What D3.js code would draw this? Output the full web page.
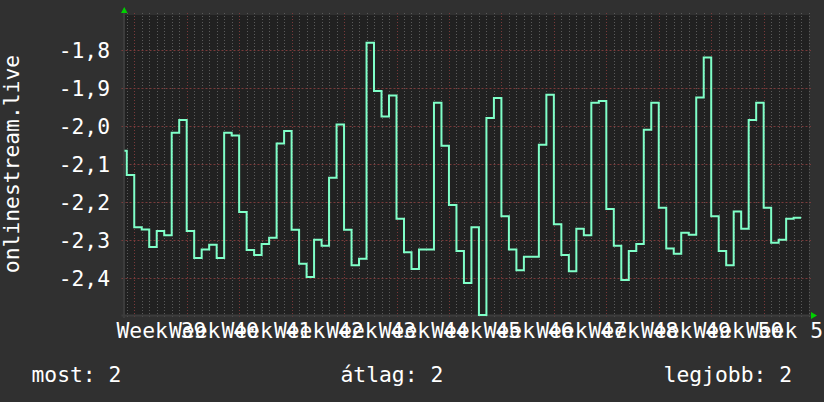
<!DOCTYPE html>
<html><head><meta charset="utf-8">
<script src="https://cdn.jsdelivr.net/npm/d3@7"></script>
<style>
html,body{margin:0;padding:0;background:#303030;}
svg{display:block;}
text{font-family:"DejaVu Sans Mono",monospace;fill:#ffffff;}
</style></head>
<body>
<script>
// ---- data ----
const startDay = -2;   // day offset (from start of Week 39) of first value
const dailyValues = [
 -2.065,-2.129,
 -2.266,-2.272,-2.318,-2.276,-2.287,-2.018,-1.984,
 -2.276,-2.347,-2.325,-2.312,-2.347,-2.018,-2.025,
 -2.226,-2.326,-2.339,-2.310,-2.294,-2.046,-2.013,
 -2.273,-2.362,-2.397,-2.299,-2.315,-2.136,-1.996,
 -2.273,-2.366,-2.349,-1.781,-1.908,-1.975,-1.920,
 -2.244,-2.332,-2.376,-2.325,-2.325,-1.939,-2.052,
 -2.208,-2.329,-2.413,-2.266,-2.497,-1.979,-1.926,
 -2.237,-2.325,-2.379,-2.344,-2.344,-2.049,-1.918,
 -2.258,-2.339,-2.382,-2.270,-2.287,-1.939,-1.934,
 -2.218,-2.315,-2.405,-2.329,-2.310,-2.010,-1.939,
 -2.215,-2.322,-2.336,-2.281,-2.286,-1.925,-1.820,
 -2.237,-2.329,-2.366,-2.225,-2.270,-1.984,-1.939,
 -2.215,-2.307,-2.299,-2.244,-2.241
];
const weekLabels = ["Week 39","Week 40","Week 41","Week 42","Week 43","Week 44","Week 45",
  "Week 46","Week 47","Week 48","Week 49","Week 50","Week 51"];
const yTicks = [-1.8,-1.9,-2.0,-2.1,-2.2,-2.3,-2.4];
const yTitle = "onlinestream.live";
const legendLabels = ["most","átlag","legjobb"];
const legendValues = [2,2,2];

// ---- layout ----
const W = 824, H = 402;
const L = 124.5, R = 809, T = 15, B = 315;
const svg = d3.select("body").append("svg").attr("width",W).attr("height",H);
svg.append("rect").attr("width",W).attr("height",H).attr("fill","#303030");

const x = d3.scaleLinear().domain([-1.3, 90.05]).range([L, R]);
const y = d3.scaleLinear().domain([-2.497, -1.708]).range([B, T]);

svg.append("rect").attr("x",L).attr("y",T).attr("width",R-L).attr("height",B-T).attr("fill","#212121");

const loc = d3.formatLocale({decimal:",",thousands:" ",grouping:[3],currency:["",""],minus:"-"});
const fmt = loc.format(".1f");

// vertical grid (days) and weeks
const days = d3.range(-1, 91).filter(d => x(d) >= L && x(d) <= R);
const g = svg.append("g");
g.selectAll("line.minor").data(days.filter(d => d % 7 !== 0)).join("line")
  .attr("x1",d=>Math.round(x(d))+0.5).attr("x2",d=>Math.round(x(d))+0.5)
  .attr("y1",T-2).attr("y2",B+2)
  .attr("stroke","#5a5a5a").attr("stroke-dasharray","1,2");
g.selectAll("line.major").data(days.filter(d => d % 7 === 0)).join("line")
  .attr("x1",d=>Math.round(x(d))+0.5).attr("x2",d=>Math.round(x(d))+0.5)
  .attr("y1",T-2).attr("y2",B+2)
  .attr("stroke","#7a3a3a").attr("stroke-dasharray","1,2");
// horizontal grid
g.selectAll("line.h").data(yTicks).join("line")
  .attr("x1",L-3).attr("x2",R+2)
  .attr("y1",d=>Math.round(y(d))+0.5).attr("y2",d=>Math.round(y(d))+0.5)
  .attr("stroke","#7a3a3a").attr("stroke-dasharray","2,2");

// axes lines
svg.append("line").attr("x1",L-0.5).attr("x2",L-0.5).attr("y1",T-3).attr("y2",B+3).attr("stroke","#3c3c3c").attr("stroke-width",2);
svg.append("line").attr("x1",L-3).attr("x2",R+4).attr("y1",B+0.5).attr("y2",B+0.5).attr("stroke","#3c3c3c").attr("stroke-width",2);
// arrows
svg.append("path").attr("d",`M${L-3.5},${T-2} L${L+3},${T-2} L${L-0.25},${T-8} Z`).attr("fill","#00d000");
svg.append("path").attr("d",`M${R+2},${B-3} L${R+2},${B+4} L${R+8},${B+0.5} Z`).attr("fill","#00d000");

// y tick labels
svg.append("g").selectAll("text").data(yTicks).join("text")
  .attr("x",110).attr("y",d=>y(d)+8.2)
  .attr("text-anchor","end").attr("font-size","21.33px").text(d=>fmt(d));

// week labels
svg.append("g").selectAll("text").data(weekLabels).join("text")
  .attr("x",(d,i)=>x(7*i+3.5)+1).attr("y",338.3)
  .attr("text-anchor","middle").attr("font-size","21.33px").text(d=>d);

// y title
svg.append("text").attr("transform","translate(18.5,164) rotate(-90)")
  .attr("text-anchor","middle").attr("font-size","21.33px").text(yTitle);

// data line
const pts = dailyValues.map((v,i)=>[startDay+i, v]);
pts.push([startDay+dailyValues.length, dailyValues[dailyValues.length-1]]);
svg.append("clipPath").attr("id","clip").append("rect").attr("x",L).attr("y",T-2).attr("width",R-L).attr("height",B-T+3);
const line = d3.line().x(d=>x(d[0])).y(d=>y(d[1])).curve(d3.curveStepAfter);
svg.append("path").datum(pts).attr("clip-path","url(#clip)")
  .attr("d",line).attr("fill","none").attr("stroke","#7fffc8").attr("stroke-width",2);

// legend
const legX = [31.5, 340.5, 792];
const legA = ["start","start","end"];
svg.append("g").selectAll("text").data(legendLabels).join("text")
  .attr("x",(d,i)=>legX[i]).attr("y",381.7).attr("text-anchor",(d,i)=>legA[i])
  .attr("font-size","21.33px").text((d,i)=>`${d}: ${legendValues[i]}`);
</script>
</body></html>
